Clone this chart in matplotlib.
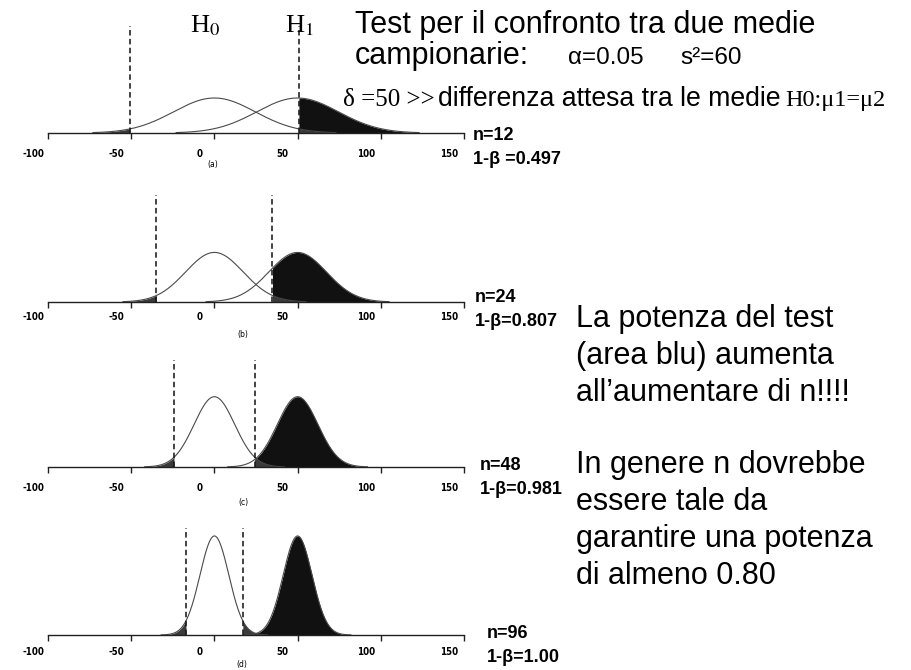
import matplotlib
matplotlib.use('Agg')
import matplotlib.pyplot as plt
import matplotlib.transforms as mtransforms
import numpy as np

# --- dati ---
campioni = [12, 24, 48, 96]
etichette_n = ['n=12', 'n=24', 'n=48', 'n=96']
etichette_potenza = ['1-β =0.497', '1-β=0.807', '1-β=0.981', '1-β=1.00']
errori_standard = [24.5, 17.3, 12.2, 8.66]      # errore standard della differenza
valori_critici = [50.8, 34.9, 24.3, 17.1]       # soglie (linee tratteggiate)
semiampiezza_curva = [73, 55, 42, 32]           # fin dove sono disegnate le curve
media_h0 = 0
media_h1 = 50
sigle_pannelli = ['(a)', '(b)', '(c)', '(d)']
tick_x = [-100, -50, 0, 50, 100, 150]
tick_etichette = ['-100', '-50', '0', '50', '100', '150']

# --- impaginazione (pixel) ---
W, H = 912, 670
asse_y = [133, 302, 467, 635]
pad_etichette = [7.2, 2.9, 7.2, 4.3]
pos_sigle = [(213, 165), (243, 335), (243, 503), (242, 664)]
pos_n = [(473, 135), (475, 297), (480, 465), (487, 633)]
PX_PER_UNITA = 2150.0
ALTEZZA_ASSE = 115
ALTEZZA_TRATTEGGIO = 107

SANS = 'Liberation Sans'
SERIF = 'Liberation Serif'
plt.rcParams['mathtext.fontset'] = 'stix'


def fx(x):
    return x / W


def fy(y):
    return 1 - y / H


def normale(x, mu, s):
    return np.exp(-0.5 * ((x - mu) / s) ** 2) / (s * np.sqrt(2 * np.pi))


fig = plt.figure(figsize=(W / 100, H / 100), dpi=100)

for i in range(4):
    se = errori_standard[i]
    crit = valori_critici[i]
    w = semiampiezza_curva[i]
    ax = fig.add_axes([fx(48), fy(asse_y[i]), fx(464) - fx(48), ALTEZZA_ASSE / H])
    ax.patch.set_visible(False)
    for lato in ['left', 'top', 'right']:
        ax.spines[lato].set_visible(False)
    ax.spines['bottom'].set_color('#202020')
    ax.spines['bottom'].set_linewidth(1.0)
    ax.set_xlim(-100, 150)
    ax.set_ylim(0, ALTEZZA_ASSE / PX_PER_UNITA)
    ax.set_yticks([])

    x0 = np.linspace(media_h0 - w, media_h0 + w, 400)
    x1 = np.linspace(media_h1 - w, media_h1 + w, 400)

    # area della potenza sotto H1
    xr = np.linspace(crit, media_h1 + w, 300)
    ax.fill_between(xr, normale(xr, media_h1, se), color='#111111', lw=0)
    # code di H0 (alpha)
    xl = np.linspace(media_h0 - w, -crit, 200)
    ax.fill_between(xl, normale(xl, media_h0, se), color='#3a3a3a', lw=0)
    xt = np.linspace(crit, media_h0 + w, 200)
    ax.fill_between(xt, normale(xt, media_h0, se), color='#3a3a3a', lw=0)

    ax.plot(x0, normale(x0, media_h0, se), color='#4a4a4a', lw=0.8)
    ax.plot(x1, normale(x1, media_h1, se), color='#4a4a4a', lw=0.8)

    ax.vlines([-crit, crit], 0, ALTEZZA_TRATTEGGIO / PX_PER_UNITA,
              colors='#111111', linestyles=(0, (3.6, 2.2)), lw=1.1)

    ax.set_xticks(tick_x)
    ax.set_xticklabels(tick_etichette, fontsize=7, fontweight='bold',
                       family='DejaVu Sans', fontstretch='condensed')
    ax.tick_params(axis='x', direction='out', length=4, width=1.0,
                   color='#202020', pad=pad_etichette[i])
    sposta = mtransforms.ScaledTranslation(-15 / 100, 0, fig.dpi_scale_trans)
    for lab in ax.get_xticklabels():
        lab.set_transform(lab.get_transform() + sposta)

    sx, sy = pos_sigle[i]
    fig.text(fx(sx), fy(sy), sigle_pannelli[i], fontsize=5.5, ha='center',
             va='center', family='DejaVu Sans')

    nx, ny = pos_n[i]
    fig.text(fx(nx), fy(ny), etichette_n[i], fontsize=13, fontweight='bold',
             family=SANS, va='center')
    fig.text(fx(nx), fy(ny + 25), etichette_potenza[i], fontsize=13,
             fontweight='bold', family=SANS, va='center')

# --- testi ---
fig.text(fx(190), fy(32), r'H$_0$', family=SERIF, fontsize=19, va='baseline')
fig.text(fx(285), fy(32), r'H$_1$', family=SERIF, fontsize=19, va='baseline')

fig.text(fx(355), fy(33), 'Test per il confronto tra due medie', family=SANS,
         fontsize=22, va='baseline')
fig.text(fx(355), fy(64), 'campionarie:', family=SANS, fontsize=22, va='baseline')
fig.text(fx(568), fy(64), 'α=0.05', family=SANS, fontsize=17.5, va='baseline')
fig.text(fx(680), fy(64), 's²=60', family=SANS, fontsize=17.5, va='baseline')
fig.text(fx(343), fy(106), 'δ =50 >>', family=SERIF, fontsize=18, va='baseline')
fig.text(fx(438), fy(106), 'differenza attesa tra le medie', family=SANS,
         fontsize=19.2, va='baseline')
fig.text(fx(785), fy(106), 'H0:μ1=μ2', family=SERIF, fontsize=17.5, va='baseline')

blocco1 = ['La potenza del test', '(area blu) aumenta', 'all’aumentare di n!!!!']
blocco2 = ['In genere n dovrebbe', 'essere tale da', 'garantire una potenza',
           'di almeno 0.80']
for k, riga in enumerate(blocco1):
    fig.text(fx(576), fy(327 + 37 * k), riga, family=SANS, fontsize=22, va='baseline')
for k, riga in enumerate(blocco2):
    fig.text(fx(576), fy(473 + 37 * k), riga, family=SANS, fontsize=22, va='baseline')

fig.savefig('out.png', dpi=100)
